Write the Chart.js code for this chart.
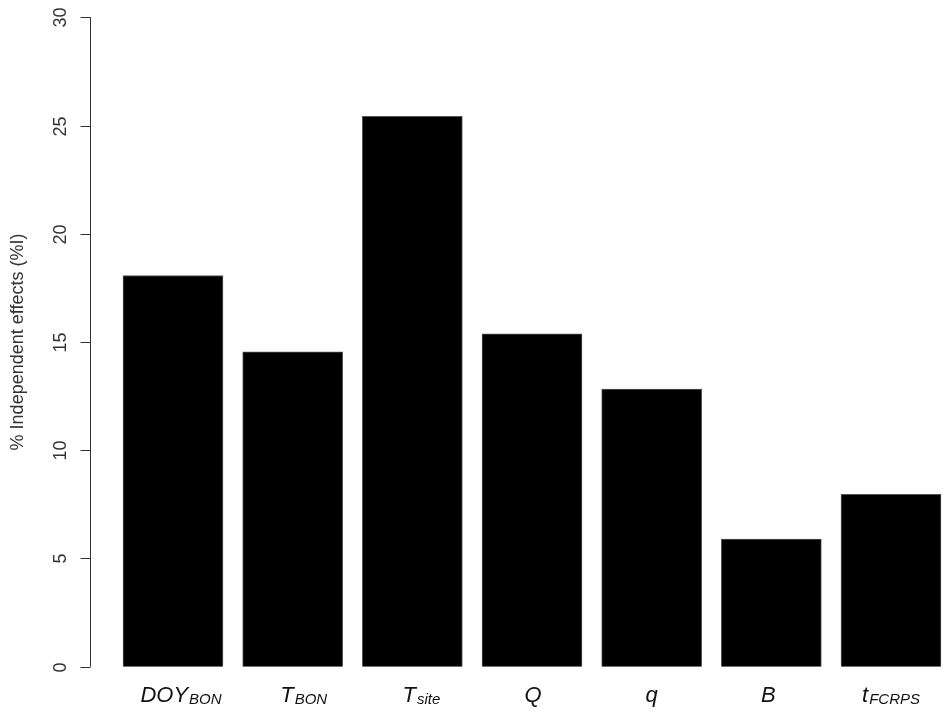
<!DOCTYPE html>
<html>
<head>
<meta charset="utf-8">
<script src="https://cdn.jsdelivr.net/npm/chart.js@4/dist/chart.umd.min.js"></script>
<style>
  html, body { margin: 0; padding: 0; background: #fff; overflow: hidden; }
  #wrap { position: relative; width: 943px; height: 713px; }
</style>
</head>
<body>
<div id="wrap"><canvas id="chart"></canvas></div>
<script>
// categories: [main symbol, subscript]
const categories = [["DOY", "BON"], ["T", "BON"], ["T", "site"], ["Q", ""], ["q", ""], ["B", ""], ["t", "FCRPS"]];
const values = [18.07, 14.55, 25.42, 15.38, 12.82, 5.90, 7.96];
const yTicks = [0, 5, 10, 15, 20, 25, 30];
const yTitle = "% Independent effects (%I)";

// small nudges so the labels sit like in the original figure
const labelNudge = [8, 11, 9, 1, 0, -3, 0];

const FONT = "'Liberation Sans', Arial, Helvetica, sans-serif";

// R-style axes drawn with the chart's own scales
const rAxes = {
  id: "rAxes",
  afterDraw(chart) {
    const ctx = chart.ctx;
    const x = chart.scales.x;
    const y = chart.scales.y;
    const ax = Math.round(chart.chartArea.left) + 0.5;

    ctx.save();
    ctx.strokeStyle = "#333";
    ctx.lineWidth = 1;

    // y axis line from first to last tick
    ctx.beginPath();
    ctx.moveTo(ax, y.getPixelForValue(yTicks[0]));
    ctx.lineTo(ax, y.getPixelForValue(yTicks[yTicks.length - 1]));
    ctx.stroke();

    // ticks + rotated labels
    ctx.fillStyle = "#333";
    ctx.font = "18px " + FONT;
    ctx.textAlign = "center";
    ctx.textBaseline = "middle";
    yTicks.forEach(t => {
      const py = Math.round(y.getPixelForValue(t)) + 0.5;
      ctx.beginPath();
      ctx.moveTo(ax - 10, py);
      ctx.lineTo(ax, py);
      ctx.stroke();

      ctx.save();
      ctx.translate(61, py);
      ctx.rotate(-Math.PI / 2);
      ctx.fillText(String(t), 0, 0);
      ctx.restore();
    });

    // y title
    ctx.save();
    const midY = (y.getPixelForValue(yTicks[0]) + y.getPixelForValue(yTicks[yTicks.length - 1])) / 2;
    ctx.translate(18.5, midY);
    ctx.rotate(-Math.PI / 2);
    ctx.fillText(yTitle, 0, 0);
    ctx.restore();

    // x labels with italic subscripts
    ctx.fillStyle = "#111";
    ctx.textAlign = "left";
    ctx.textBaseline = "alphabetic";
    const mainFont = "italic 22px " + FONT;
    const subFont = "italic 15px " + FONT;
    categories.forEach((c, i) => {
      ctx.font = mainFont;
      const wMain = ctx.measureText(c[0]).width;
      ctx.font = subFont;
      const wSub = c[1] ? ctx.measureText(c[1]).width + 1 : 0;
      const cx = x.getPixelForValue(i) + labelNudge[i];
      let sx = cx - (wMain + wSub) / 2;
      ctx.font = mainFont;
      ctx.fillText(c[0], sx, 701.5);
      if (c[1]) {
        ctx.font = subFont;
        ctx.fillText(c[1], sx + wMain + 1, 703.5);
      }
    });

    ctx.restore();
  }
};

new Chart(document.getElementById("chart"), {
  type: "bar",
  data: {
    datasets: [{
      data: values.map((v, i) => ({ x: i, y: v })),
      backgroundColor: "#000",
      borderColor: "#555",
      borderWidth: 1,
      barThickness: 100
    }]
  },
  options: {
    responsive: true,
    maintainAspectRatio: false,
    animation: false,
    layout: { padding: { left: 90, right: 0, top: 17.3, bottom: 46.3 } },
    plugins: { legend: { display: false }, tooltip: { enabled: false } },
    scales: {
      x: {
        type: "linear",
        display: false,
        min: -0.6936,
        max: 6.4345,
        offset: false
      },
      y: {
        display: false,
        min: 0,
        max: 30
      }
    }
  },
  plugins: [rAxes]
});
</script>
</body>
</html>
